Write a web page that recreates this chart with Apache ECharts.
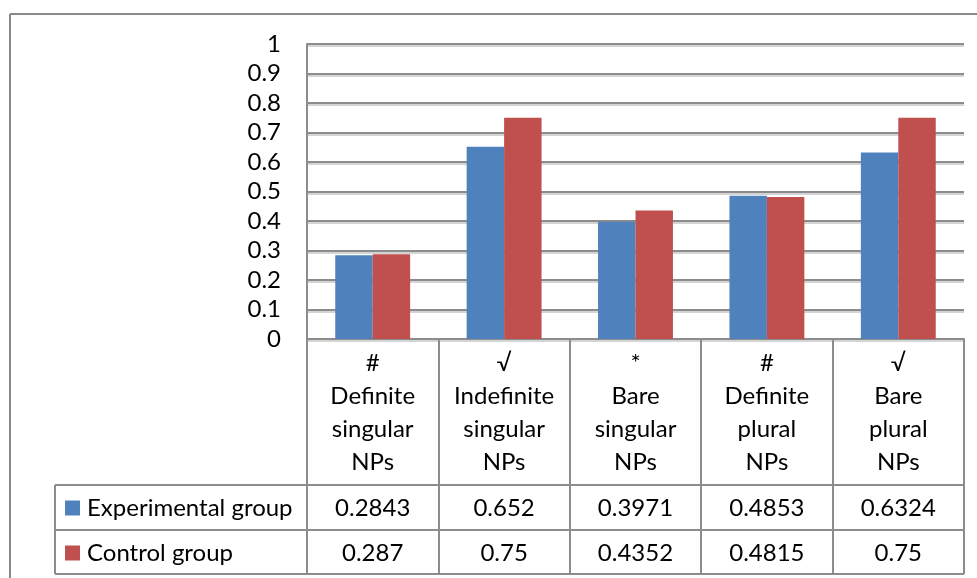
<!DOCTYPE html>
<html>
<head>
<meta charset="utf-8">
<script src="https://cdn.jsdelivr.net/npm/echarts@6/dist/echarts.min.js"></script>
<style>
  html, body { margin: 0; padding: 0; background: #ffffff; }
  #chart { width: 977px; height: 578px; }
</style>
</head>
<body>
<div id="chart"></div>
<script>
// Categories (judgement mark + NP type) and group scores
const categories = [
  '#\nDefinite\nsingular\nNPs',
  '\u221A\nIndefinite\nsingular\nNPs',
  '*\nBare\nsingular\nNPs',
  '#\nDefinite\nplural\nNPs',
  '\u221A\nBare\nplural\nNPs'
];
const experimental = [0.2843, 0.652, 0.3971, 0.4853, 0.6324];
const control = [0.287, 0.75, 0.4352, 0.4815, 0.75];
const seriesNames = ['Experimental group', 'Control group'];
const yTicks = [0, 0.1, 0.2, 0.3, 0.4, 0.5, 0.6, 0.7, 0.8, 0.9, 1];

const FONT = 'Lato, "Open Sans", sans-serif';
const FS = 24;
const GRAY = '#8c8c8c';
const BLUE = '#4F81BD';
const RED = '#C0504D';

const chart = echarts.init(document.getElementById('chart'), null, { renderer: 'canvas' });

// Row of table values rendered as a category axis sharing the bar axis bands
function tableRow(values, margin) {
  return {
    type: 'category',
    gridIndex: 0,
    position: 'bottom',
    data: values.map(v => String(v)),
    axisLine: { show: false },
    axisTick: { show: false },
    splitLine: { show: false },
    axisLabel: {
      interval: 0,
      margin: margin,
      verticalAlign: 'middle',
      fontFamily: FONT,
      fontSize: FS,
      color: '#000'
    }
  };
}

const option = {
  animation: false,
  backgroundColor: '#ffffff',
  textStyle: { fontFamily: FONT },
  grid: { left: 307, right: 13, top: 44, height: 295, containLabel: false },
  legend: {
    data: seriesNames,
    orient: 'vertical',
    left: 65,
    top: 496,
    padding: 0,
    icon: 'rect',
    itemWidth: 15,
    itemHeight: 15,
    itemGap: 21,
    selectedMode: false,
    textStyle: { fontFamily: FONT, fontSize: FS, lineHeight: 24, color: '#000', padding: [0, 0, 0, 2] }
  },
  xAxis: [
    {
      type: 'category',
      gridIndex: 0,
      position: 'bottom',
      data: categories,
      axisLine: { show: true, lineStyle: { color: GRAY, width: 2 } },
      axisTick: { show: true, length: 235, lineStyle: { color: GRAY, width: 2 } },
      axisLabel: {
        interval: 0,
        margin: 8,
        lineHeight: 33,
        fontFamily: FONT,
        fontSize: FS,
        color: '#000'
      }
    },
    tableRow(experimental, 169),
    tableRow(control, 214)
  ],
  yAxis: {
    type: 'value',
    min: 0,
    max: 1,
    interval: 0.1,
    axisLine: { show: true, lineStyle: { color: GRAY, width: 2 } },
    axisTick: { show: false },
    axisLabel: {
      margin: 26,
      fontFamily: FONT,
      fontSize: FS,
      color: '#000',
      formatter: v => {
        const t = yTicks.find(k => Math.abs(k - v) < 1e-9);
        return t === undefined ? '' : String(t);
      }
    },
    splitLine: {
      show: true,
      lineStyle: { color: GRAY, width: 2, shadowColor: '#d4d4d4', shadowOffsetY: 2, shadowBlur: 0 }
    }
  },
  series: [
    {
      name: seriesNames[0],
      type: 'bar',
      xAxisIndex: 0,
      data: experimental,
      barGap: '0%',
      barCategoryGap: '43%',
      itemStyle: { color: BLUE }
    },
    {
      name: seriesNames[1],
      type: 'bar',
      xAxisIndex: 0,
      data: control,
      barGap: '0%',
      barCategoryGap: '43%',
      itemStyle: { color: RED }
    }
  ]
};

chart.setOption(option);

// Table rules and outer frame, positioned from the axis pixel scale
const c0 = chart.convertToPixel({ xAxisIndex: 0 }, 0);
const step = chart.convertToPixel({ xAxisIndex: 0 }, 1) - c0;
const x0 = c0 - step / 2;
const xEnd = x0 + step * categories.length;
const yZero = chart.convertToPixel({ yAxisIndex: 0 }, 0);
const rowTop = yZero + 146;
const rowMid = yZero + 191;
const rowBot = yZero + 235;
const legendLeft = 55;
const line = (x1, y1, x2, y2, w, c) => ({
  type: 'line',
  shape: { x1, y1, x2, y2 },
  style: { stroke: c || GRAY, lineWidth: w || 2 },
  silent: true
});
chart.setOption({
  graphic: [
    line(legendLeft, rowTop, xEnd, rowTop),
    line(legendLeft, rowMid, xEnd, rowMid),
    line(legendLeft, rowBot, xEnd, rowBot),
    line(legendLeft, rowTop, legendLeft, rowBot),
    line(10, 14, 977, 14, 2, '#8a8a8a'),
    line(10, 14, 10, 578, 2, '#8a8a8a')
  ]
});
</script>
</body>
</html>
